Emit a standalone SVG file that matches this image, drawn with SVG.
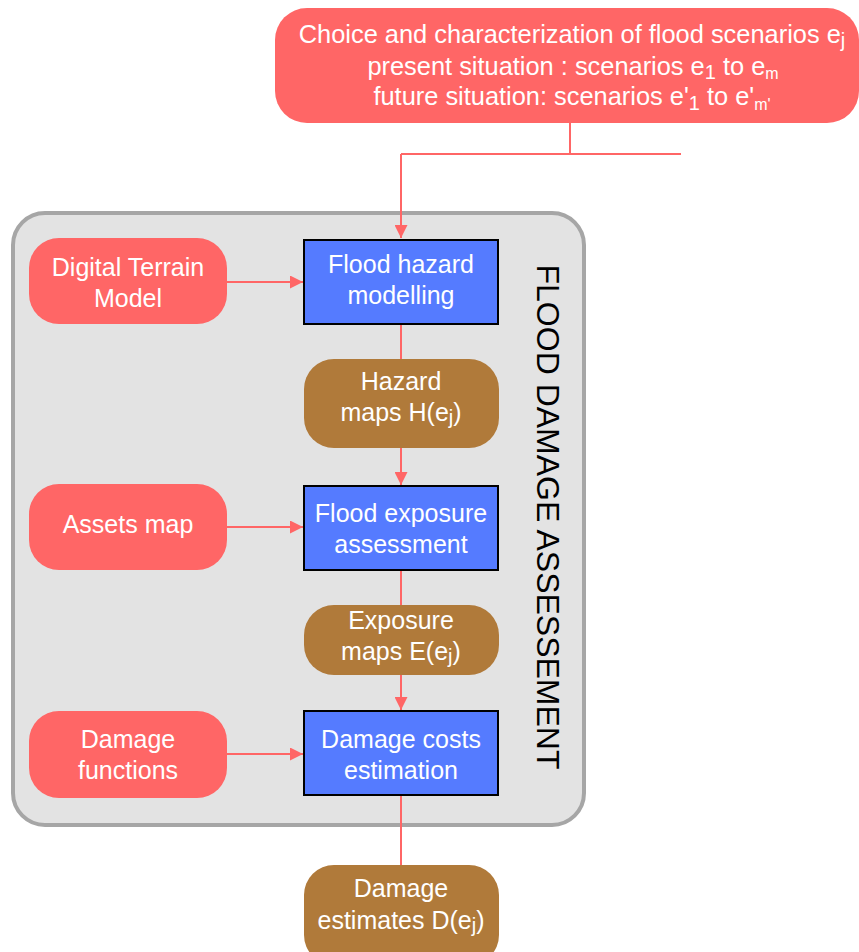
<svg xmlns="http://www.w3.org/2000/svg" width="859" height="952" viewBox="0 0 859 952">
  <defs>
    <marker id="arrow" viewBox="0 0 12 12" refX="12" refY="6" markerWidth="13" markerHeight="13" markerUnits="userSpaceOnUse" orient="auto">
      <path d="M0,0 L12,6 L0,12 z" fill="#FF6666"/>
    </marker>
    <style>
      .red { fill: #FF6666; }
      .blue { fill: #557BFF; stroke: #000; stroke-width: 2; }
      .brown { fill: #B07A3A; }
      .lbl { font-family: "Liberation Sans", Arial, sans-serif; font-size: 25px; fill: #fff; text-anchor: middle; }
      .top { font-size: 25.4px; }
      .sub { font-size: 20px; }
      .subs { font-size: 16px; }
      .conn { stroke: #FF6666; stroke-width: 2; fill: none; }
      .arr { marker-end: url(#arrow); }
    </style>
  </defs>

  <rect width="859" height="952" fill="#fff"/>

  <!-- scenarios -->
  <g id="scenarios">
    <rect class="red" x="275" y="8" width="584" height="115" rx="32"/>
    <text class="lbl top" x="572" y="43">Choice and characterization of flood scenarios e<tspan class="sub" dy="4">j</tspan></text>
    <text class="lbl top" x="573" y="75">present situation : scenarios e<tspan class="sub" dy="4">1</tspan><tspan dy="-4"> to e</tspan><tspan class="subs" dy="4">m</tspan></text>
    <text class="lbl top" x="572" y="105">future situation: scenarios e'<tspan class="sub" dy="5">1</tspan><tspan dy="-5"> to e'</tspan><tspan class="subs" dy="5">m'</tspan></text>
  </g>

  <!-- assessment frame -->
  <g id="assessment">
    <rect x="13" y="213" width="571" height="612" rx="32" fill="#E3E3E3" stroke="#A6A6A6" stroke-width="4"/>
    <text x="547" y="517" transform="rotate(90 547 517)" font-family="Liberation Sans, Arial, sans-serif" font-size="31" fill="#000" text-anchor="middle" dominant-baseline="central" textLength="505" lengthAdjust="spacingAndGlyphs">FLOOD DAMAGE ASSESSEMENT</text>
  </g>

  <!-- connectors -->
  <g id="connectors">
    <path class="conn" d="M570,123 V154 M401,154 H681"/>
    <path class="conn arr" d="M401,154 V238"/>
    <path class="conn arr" d="M227,282 H303"/>
    <path class="conn" d="M401,324 V360"/>
    <path class="conn arr" d="M401,448 V485"/>
    <path class="conn arr" d="M227,527 H303"/>
    <path class="conn" d="M401,570 V605"/>
    <path class="conn arr" d="M401,675 V710"/>
    <path class="conn arr" d="M227,754 H303"/>
    <path class="conn" d="M401,795 V865"/>
  </g>

  <g id="dtm">
    <rect class="red" x="29" y="238" width="198" height="86" rx="30"/>
    <text class="lbl" x="128" y="276">Digital Terrain</text>
    <text class="lbl" x="128" y="307">Model</text>
  </g>

  <g id="hazard-modelling">
    <rect class="blue" x="304" y="240" width="194" height="84"/>
    <text class="lbl" x="401" y="273">Flood hazard</text>
    <text class="lbl" x="401" y="304">modelling</text>
  </g>

  <g id="hazard-maps">
    <rect class="brown" x="304" y="359" width="195" height="89" rx="30"/>
    <text class="lbl" x="401" y="390">Hazard</text>
    <text class="lbl" x="401" y="421">maps H(e<tspan class="sub" dy="3">j</tspan><tspan dy="-3">)</tspan></text>
  </g>

  <g id="assets">
    <rect class="red" x="29" y="484" width="198" height="86" rx="30"/>
    <text class="lbl" x="128" y="533">Assets map</text>
  </g>

  <g id="exposure-assessment">
    <rect class="blue" x="304" y="486" width="194" height="84"/>
    <text class="lbl" x="401" y="522">Flood exposure</text>
    <text class="lbl" x="401" y="553">assessment</text>
  </g>

  <g id="exposure-maps">
    <rect class="brown" x="304" y="605" width="195" height="70" rx="30"/>
    <text class="lbl" x="401" y="629">Exposure</text>
    <text class="lbl" x="401" y="660">maps E(e<tspan class="sub" dy="3">j</tspan><tspan dy="-3">)</tspan></text>
  </g>

  <g id="damage-functions">
    <rect class="red" x="29" y="711" width="198" height="87" rx="30"/>
    <text class="lbl" x="128" y="748">Damage</text>
    <text class="lbl" x="128" y="779">functions</text>
  </g>

  <g id="damage-costs">
    <rect class="blue" x="304" y="711" width="194" height="84"/>
    <text class="lbl" x="401" y="748">Damage costs</text>
    <text class="lbl" x="401" y="779">estimation</text>
  </g>

  <g id="damage-estimates">
    <rect class="brown" x="304" y="865" width="195" height="100" rx="30"/>
    <text class="lbl" x="401" y="897">Damage</text>
    <text class="lbl" x="401" y="929">estimates D(e<tspan class="sub" dy="3">j</tspan><tspan dy="-3">)</tspan></text>
  </g>
</svg>
